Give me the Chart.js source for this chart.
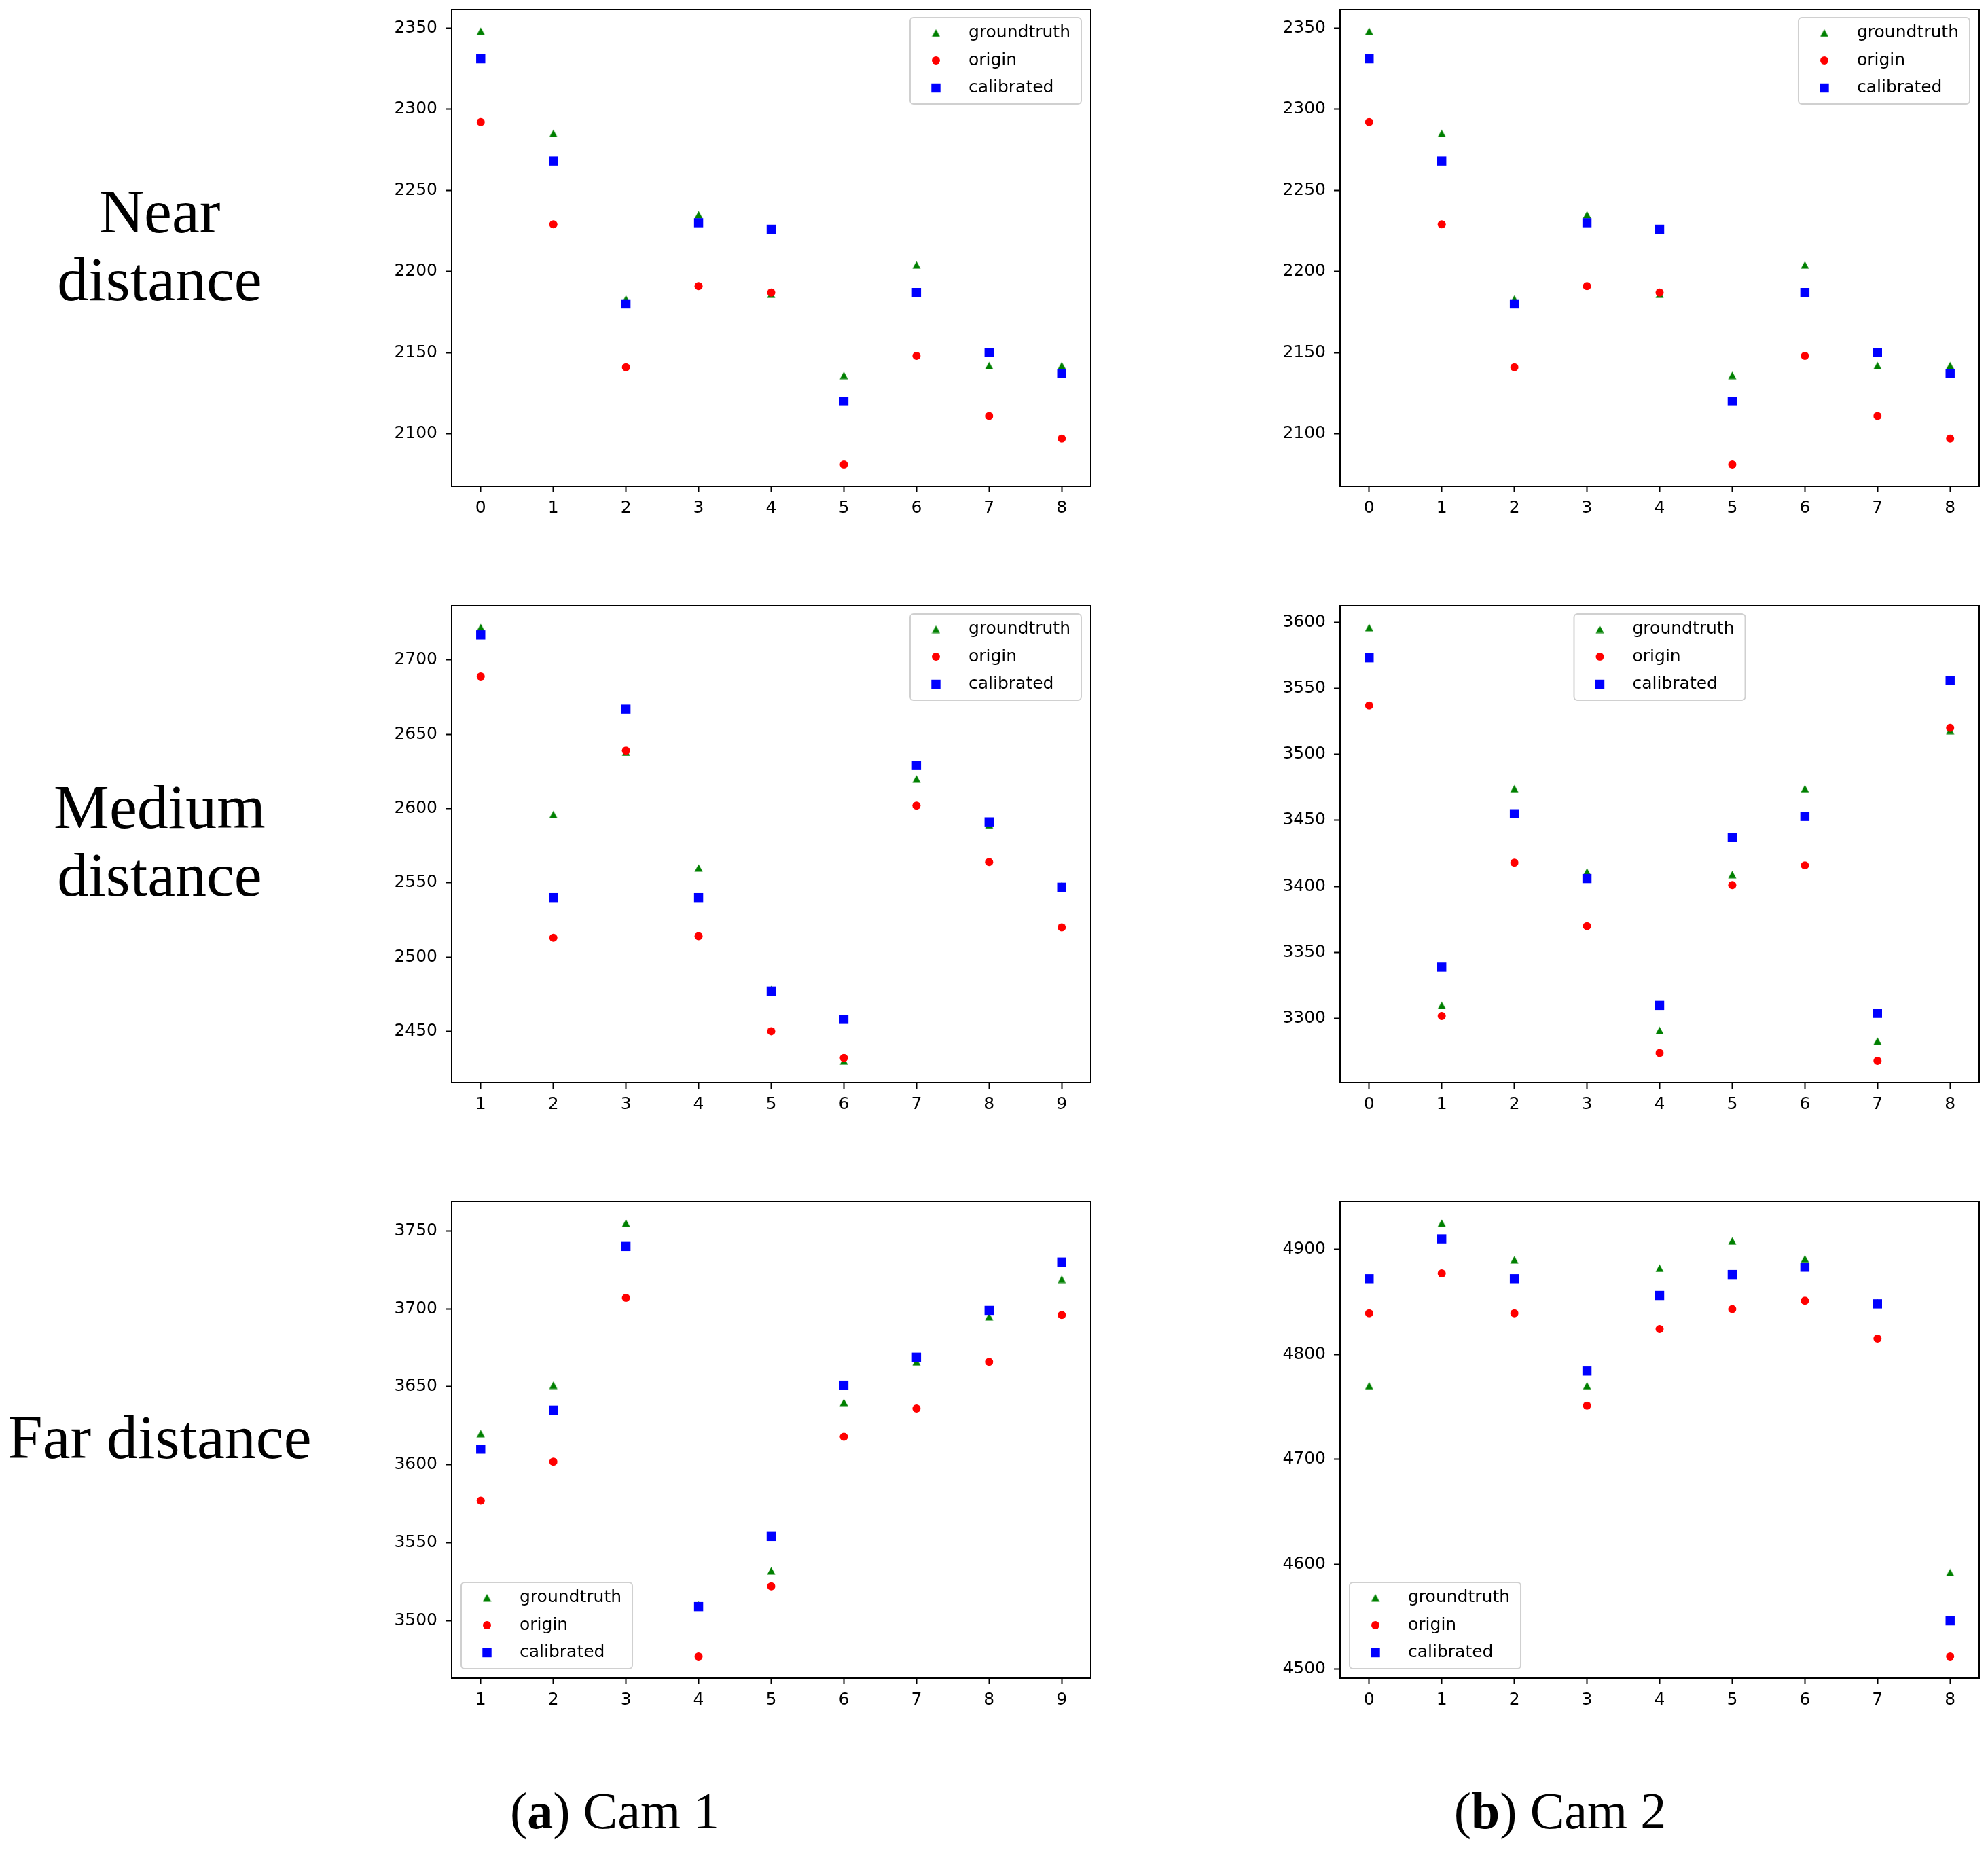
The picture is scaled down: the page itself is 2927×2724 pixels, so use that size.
<!DOCTYPE html>
<html lang="en">
<head>
<meta charset="utf-8">
<title>groundtruth / origin / calibrated</title>
<script src="https://cdn.jsdelivr.net/npm/chart.js@4.4.1/dist/chart.umd.min.js"></script>
<style>
    html, body { margin: 0; padding: 0; background: #fff; }
    #figure { position: relative; width: 2927px; height: 2724px; overflow: hidden; background: #fff; }
    #figure canvas { position: absolute; }
    .row-label {
        position: absolute; left: 0; width: 470px; text-align: center;
        font-family: 'Liberation Serif', 'DejaVu Serif', serif;
        font-size: 92px; line-height: 100px; color: #000;
    }
    .caption {
        position: absolute; width: 600px; text-align: center;
        font-family: 'Liberation Serif', 'DejaVu Serif', serif;
        font-size: 76px; line-height: 76px; color: #000;
    }
</style>
</head>
<body>
<div id="figure">
    <div class="row-label" style="top:261px">Near<br>distance</div>
    <div class="row-label" style="top:1138px">Medium<br>distance</div>
    <div class="row-label" style="top:2066px">Far distance</div>
    <div class="caption" style="left:605px;top:2628px">(<b>a</b>) Cam 1</div>
    <div class="caption" style="left:1997px;top:2628px">(<b>b</b>) Cam 2</div>

    <canvas id="nearCam1" style="left:545px;top:-6px"></canvas>
    <canvas id="nearCam2" style="left:1853px;top:-6px"></canvas>
    <canvas id="mediumCam1" style="left:545px;top:872px"></canvas>
    <canvas id="mediumCam2" style="left:1853px;top:872px"></canvas>
    <canvas id="farCam1" style="left:545px;top:1749px"></canvas>
    <canvas id="farCam2" style="left:1853px;top:1749px"></canvas>
</div>

<script>
// ---- data ----
const seriesLabels = ['groundtruth', 'origin', 'calibrated'];

const samplesFrom0 = [0, 1, 2, 3, 4, 5, 6, 7, 8];
const samplesFrom1 = [1, 2, 3, 4, 5, 6, 7, 8, 9];

// Near distance (both cameras show the same values)
const nearCam1Groundtruth = [2348, 2285, 2183, 2235, 2186, 2136, 2204, 2142, 2142];
const nearCam1Origin      = [2292, 2229, 2141, 2191, 2187, 2081, 2148, 2111, 2097];
const nearCam1Calibrated  = [2331, 2268, 2180, 2230, 2226, 2120, 2187, 2150, 2137];

const nearCam2Groundtruth = [2348, 2285, 2183, 2235, 2186, 2136, 2204, 2142, 2142];
const nearCam2Origin      = [2292, 2229, 2141, 2191, 2187, 2081, 2148, 2111, 2097];
const nearCam2Calibrated  = [2331, 2268, 2180, 2230, 2226, 2120, 2187, 2150, 2137];

// Medium distance
const mediumCam1Groundtruth = [2722, 2596, 2638, 2560, 2478, 2430, 2620, 2589, 2548];
const mediumCam1Origin      = [2689, 2513, 2639, 2514, 2450, 2432, 2602, 2564, 2520];
const mediumCam1Calibrated  = [2717, 2540, 2667, 2540, 2477, 2458, 2629, 2591, 2547];

const mediumCam2Groundtruth = [3596, 3310, 3474, 3411, 3291, 3409, 3474, 3283, 3518];
const mediumCam2Origin      = [3537, 3302, 3418, 3370, 3274, 3401, 3416, 3268, 3520];
const mediumCam2Calibrated  = [3573, 3339, 3455, 3406, 3310, 3437, 3453, 3304, 3556];

// Far distance
const farCam1Groundtruth = [3620, 3651, 3755, 3510, 3532, 3640, 3666, 3695, 3719];
const farCam1Origin      = [3577, 3602, 3707, 3477, 3522, 3618, 3636, 3666, 3696];
const farCam1Calibrated  = [3610, 3635, 3740, 3509, 3554, 3651, 3669, 3699, 3730];

const farCam2Groundtruth = [4770, 4925, 4890, 4770, 4882, 4908, 4891, 4849, 4592];
const farCam2Origin      = [4839, 4877, 4839, 4751, 4824, 4843, 4851, 4815, 4512];
const farCam2Calibrated  = [4872, 4910, 4872, 4784, 4856, 4876, 4883, 4848, 4546];

// tick labels
const nearYTicks       = [2100, 2150, 2200, 2250, 2300, 2350];
const mediumCam1YTicks = [2450, 2500, 2550, 2600, 2650, 2700];
const mediumCam2YTicks = [3300, 3350, 3400, 3450, 3500, 3550, 3600];
const farCam1YTicks    = [3500, 3550, 3600, 3650, 3700, 3750];
const farCam2YTicks    = [4500, 4600, 4700, 4800, 4900];

// ---- look ----
const COLORS = { groundtruth: '#008000', origin: '#ff0000', calibrated: '#0000ff' };
const TICK_FONT = { family: 'DejaVu Sans', size: 25 };

const PLOT_W = 941, PLOT_H = 702;
const Y_AXIS_W = 120, X_AXIS_H = 60, PAD_TOP = 20, PAD_RIGHT = 10;

/**
 * Triangle marker centred on its bounding box (matplotlib '^'),
 * Chart.js draws image point styles centred on the point.
 */
function triangleSprite(color) {
    const c = document.createElement('canvas');
    c.width = 13;
    c.height = 12;
    const g = c.getContext('2d');
    g.fillStyle = color;
    g.beginPath();
    g.moveTo(6.5, 0.5);
    g.lineTo(12.5, 11.5);
    g.lineTo(0.5, 11.5);
    g.closePath();
    g.fill();
    return c;
}

const MARKERS = {
    groundtruth: { style: triangleSprite(COLORS.groundtruth), radius: 7 },
    origin:      { style: 'circle', radius: 6 },
    calibrated:  { style: 'rect',   radius: 9.5 }
};

/**
 * matplotlib-like autoscale: data range plus 5% on both sides
 */
function axisRange(values) {
    const lo = Math.min(...values);
    const hi = Math.max(...values);
    const pad = (hi - lo) * 0.05;
    return { min: lo - pad, max: hi + pad };
}

function makeAxis(tickValues, range, isX) {
    return {
        type: 'linear',
        min: range.min,
        max: range.max,
        afterBuildTicks: scale => {
            scale.ticks = tickValues.map(v => ({ value: v }));
        },
        afterFit: scale => {
            if (isX) scale.height = X_AXIS_H; else scale.width = Y_AXIS_W;
            scale.paddingTop = scale.paddingBottom = 0;
            scale.paddingLeft = scale.paddingRight = 0;
        },
        grid: {
            display: true,
            drawOnChartArea: false,
            drawTicks: true,
            tickLength: 9,
            tickWidth: 2,
            tickColor: '#000'
        },
        border: { display: false },
        ticks: {
            color: '#000',
            font: TICK_FONT,
            padding: isX ? 8 : 12,
            autoSkip: false,
            maxRotation: 0,
            callback: v => String(v)
        }
    };
}

// legend handles, same geometry as the plotted points
function drawMarker(ctx, marker, x, y) {
    const { style, radius: r } = marker;
    if (style instanceof HTMLCanvasElement) {
        ctx.drawImage(style, x - style.width / 2, y - style.height / 2);
        return;
    }
    ctx.beginPath();
    if (style === 'circle') {
        ctx.arc(x, y, r, 0, Math.PI * 2);
    } else {
        const h = r * Math.SQRT1_2;
        ctx.rect(x - h, y - h, 2 * h, 2 * h);
    }
    ctx.fill();
}

// black box around the plot area (all four spines)
const framePlugin = {
    id: 'frame',
    afterDraw(chart) {
        const { ctx, chartArea: a } = chart;
        ctx.save();
        ctx.strokeStyle = '#000';
        ctx.lineWidth = 2;
        ctx.strokeRect(a.left, a.top, a.right - a.left, a.bottom - a.top);
        ctx.restore();
    }
};

// legend box drawn inside the axes, like matplotlib
function boxLegend(position) {
    return {
        id: 'boxLegend',
        afterDraw(chart) {
            const { ctx, chartArea: a } = chart;
            ctx.save();
            ctx.font = `${TICK_FONT.size}px "${TICK_FONT.family}"`;
            const textW = Math.max(...seriesLabels.map(l => ctx.measureText(l).width));
            const w = 86 + textW + 16;
            const h = 127;
            let x, y;
            if (position === 'upper right') { x = a.right - 14 - w; y = a.top + 12; }
            else if (position === 'upper center') { x = (a.left + a.right) / 2 - w / 2; y = a.top + 12; }
            else { x = a.left + 14; y = a.bottom - 14 - h; }

            ctx.beginPath();
            if (ctx.roundRect) ctx.roundRect(x, y, w, h, 5); else ctx.rect(x, y, w, h);
            ctx.fillStyle = 'rgba(255,255,255,0.8)';
            ctx.fill();
            ctx.strokeStyle = '#d0d0d0';
            ctx.lineWidth = 2;
            ctx.stroke();

            seriesLabels.forEach((label, i) => {
                const cy = y + 22.5 + i * 40.5;
                ctx.fillStyle = COLORS[label];
                drawMarker(ctx, MARKERS[label], x + 38, cy);
                ctx.fillStyle = '#000';
                ctx.textBaseline = 'middle';
                ctx.textAlign = 'left';
                ctx.fillText(label, x + 86, cy);
            });
            ctx.restore();
        }
    };
}

function makeDataset(label, xs, ys, order) {
    const m = MARKERS[label];
    return {
        label,
        data: xs.map((x, i) => ({ x, y: ys[i] })),
        showLine: false,
        pointStyle: m.style,
        pointRadius: m.radius,
        pointHoverRadius: m.radius,
        pointBackgroundColor: COLORS[label],
        pointBorderColor: COLORS[label],
        pointBorderWidth: 0,
        order
    };
}

function createPanel(canvasId, xs, groundtruth, origin, calibrated, yTicks, legendPos) {
    const canvas = document.getElementById(canvasId);
    canvas.width = Y_AXIS_W + PLOT_W + PAD_RIGHT;
    canvas.height = PAD_TOP + PLOT_H + X_AXIS_H;

    const xRange = axisRange(xs);
    const yRange = axisRange([...groundtruth, ...origin, ...calibrated]);

    return new Chart(canvas.getContext('2d'), {
        type: 'scatter',
        data: {
            datasets: [
                // calibrated on top, groundtruth underneath (like the plot order)
                makeDataset('groundtruth', xs, groundtruth, 2),
                makeDataset('origin', xs, origin, 1),
                makeDataset('calibrated', xs, calibrated, 0)
            ]
        },
        options: {
            responsive: false,
            animation: false,
            events: [],
            layout: { padding: { top: PAD_TOP, right: PAD_RIGHT, left: 0, bottom: 0 } },
            plugins: {
                legend: { display: false },
                tooltip: { enabled: false }
            },
            scales: {
                x: makeAxis(xs, xRange, true),
                y: makeAxis(yTicks, yRange, false)
            }
        },
        plugins: [framePlugin, boxLegend(legendPos)]
    });
}

createPanel('nearCam1', samplesFrom0, nearCam1Groundtruth, nearCam1Origin, nearCam1Calibrated, nearYTicks, 'upper right');
createPanel('nearCam2', samplesFrom0, nearCam2Groundtruth, nearCam2Origin, nearCam2Calibrated, nearYTicks, 'upper right');
createPanel('mediumCam1', samplesFrom1, mediumCam1Groundtruth, mediumCam1Origin, mediumCam1Calibrated, mediumCam1YTicks, 'upper right');
createPanel('mediumCam2', samplesFrom0, mediumCam2Groundtruth, mediumCam2Origin, mediumCam2Calibrated, mediumCam2YTicks, 'upper center');
createPanel('farCam1', samplesFrom1, farCam1Groundtruth, farCam1Origin, farCam1Calibrated, farCam1YTicks, 'lower left');
createPanel('farCam2', samplesFrom0, farCam2Groundtruth, farCam2Origin, farCam2Calibrated, farCam2YTicks, 'lower left');
</script>
</body>
</html>
